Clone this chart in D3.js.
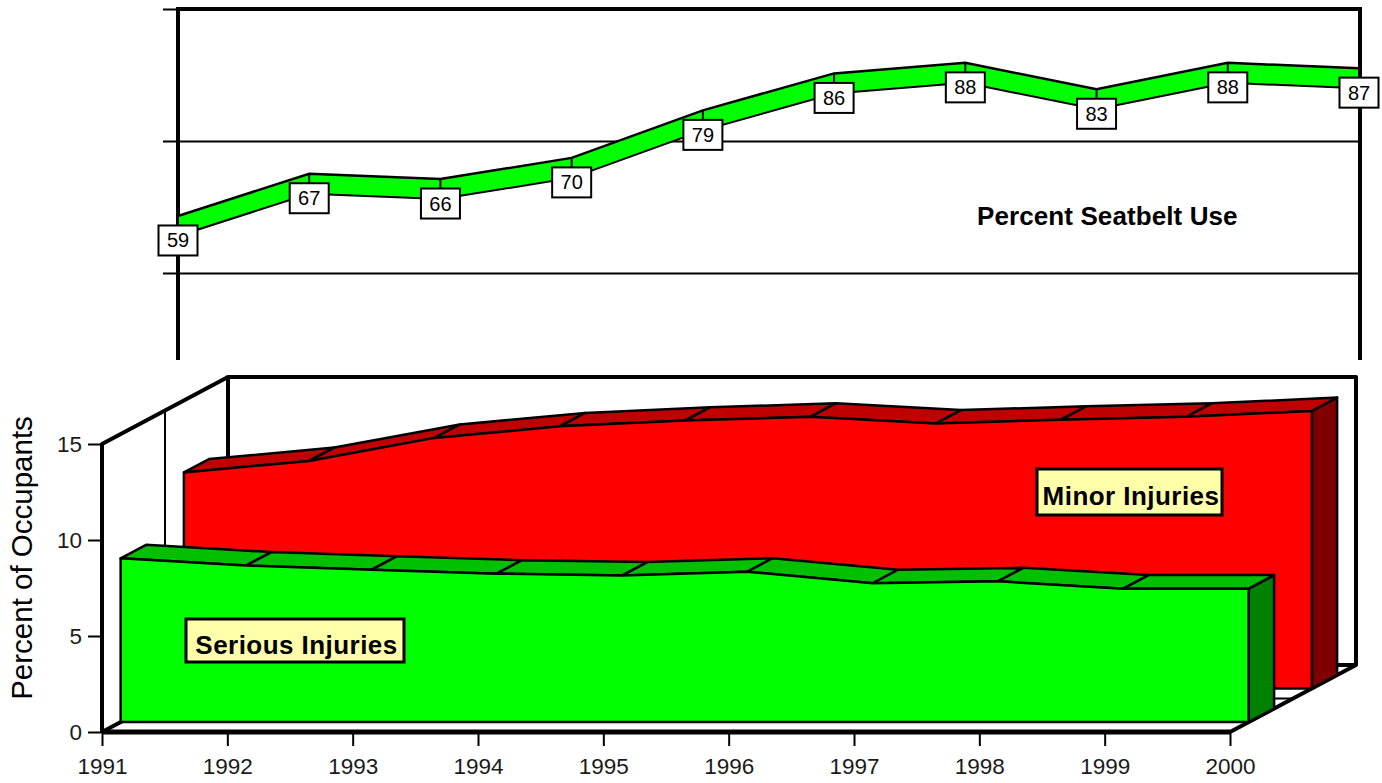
<!DOCTYPE html>
<html>
<head>
<meta charset="utf-8">
<script src="https://cdn.jsdelivr.net/npm/d3@7"></script>
<style>
    html, body { margin: 0; padding: 0; background: #fff; }
    svg { display: block; }
    text { font-family: "Liberation Sans", Arial, sans-serif; fill: #000; }
    .tick text { font-size: 22.5px; fill: #1a1a1a; }
</style>
</head>
<body>
<svg id="chart" width="1382" height="783"></svg>
<script>
// values
const years = [1991, 1992, 1993, 1994, 1995, 1996, 1997, 1998, 1999, 2000];
const seatbeltUse = [59, 67, 66, 70, 79, 86, 88, 83, 88, 87];
const seriousInjuries = [8.53, 8.15, 7.93, 7.73, 7.63, 7.83, 7.23, 7.33, 6.95, 6.95];
const minorInjuries = [11.25, 11.85, 13.05, 13.65, 13.95, 14.15, 13.8, 14.0, 14.15, 14.45];
const seatbeltTicks = [50, 75, 100];
const injuryTicks = [0, 5, 10, 15];

const svg = d3.select("#chart");

// top panel
const xTop = d3.scaleLinear().domain([1991, 2000]).range([178, 1359]);
const yTop = d3.scaleLinear().domain([50, 100]).range([273, 9]);
const top_bottom = 360;
const ribbon = 10; // half height of the band
const belt = years.map((y, i) => ({ year: y, v: seatbeltUse[i] }));

const gTop = svg.append("g");
const topAxis = d3.axisLeft(yTop).tickValues(seatbeltTicks).tickSize(15).tickFormat("");
gTop.append("g")
    .attr("transform", "translate(178,0)")
    .call(topAxis)
    .call(g => g.select(".domain").remove())
    .selectAll("line")
    .attr("x1", -15)
    .attr("x2", (d) => d === 100 ? 0 : xTop(2000) - 178 + 1)
    .attr("stroke", "#000")
    .attr("stroke-width", 2);

gTop.append("path")
    .attr("d", d3.line()([[178, top_bottom], [178, yTop(100)], [1360, yTop(100)], [1360, top_bottom]]))
    .attr("fill", "none")
    .attr("stroke", "#000")
    .attr("stroke-width", 4);

const band = d3.area()
    .x(d => xTop(d.year))
    .y0(d => yTop(d.v) + ribbon + 0.5)
    .y1(d => yTop(d.v) - ribbon + 0.5);

gTop.append("path").datum(belt).attr("d", band).attr("fill", "#00ff00");
[-ribbon, ribbon].forEach(off => {
    gTop.append("path").datum(belt)
        .attr("d", d3.line().x(d => xTop(d.year)).y(d => yTop(d.v) + off + 0.5))
        .attr("fill", "none")
        .attr("stroke", "#000")
        .attr("stroke-width", off < 0 ? 2.5 : 2);
});

// value boxes hang off each point
const boxW = 39, boxH = 30;
const labels = gTop.selectAll("g.val").data(belt).join("g")
    .attr("class", "val")
    .attr("transform", d => `translate(${xTop(d.year)},${yTop(d.v)})`);
labels.append("line")
    .attr("y1", -ribbon).attr("y2", 0)
    .attr("stroke", "#000").attr("stroke-width", 2);
labels.append("rect")
    .attr("x", -boxW / 2).attr("y", 0)
    .attr("width", boxW).attr("height", boxH)
    .attr("fill", "#fff").attr("stroke", "#000").attr("stroke-width", 2);
labels.append("text")
    .attr("text-anchor", "middle")
    .attr("y", 22)
    .attr("font-size", 20)
    .attr("fill", "#1a1a1a")
    .text(d => d.v);

svg.append("text")
    .attr("x", 977).attr("y", 225)
    .attr("font-size", 26).attr("font-weight", "bold")
    .attr("letter-spacing", 0.1)
    .text("Percent Seatbelt Use");

// bottom panel, fake 3d: depth z runs 0..1 along (dx,dy)
const xBot = d3.scaleLinear().domain([1991, 2000]).range([102, 1230]);
const yBot = d3.scaleLinear().domain([0, 15]).range([732, 444]);
const depthX = 126, depthY = -67;
const pt = (year, v, z) => [xBot(year) + depthX * z, yBot(v) + depthY * z];
const poly = d3.line();

const gBot = svg.append("g");
const frame = (pts, w) => gBot.append("path")
    .attr("d", poly(pts)).attr("fill", "none")
    .attr("stroke", "#000").attr("stroke-width", w)
    .attr("stroke-linejoin", "round");

// mid gridlines on wall and floor
frame([pt(1991, 15, 0.5), pt(1991, 0, 0.5), pt(2000, 0, 0.5)], 2);
// back wall
frame([pt(1991, 0, 1), pt(1991, 15, 1), pt(2000, 15, 1), pt(2000, 0, 1), pt(2000, 0, 0)], 4);
frame([pt(1991, 0, 0), pt(1991, 15, 0), pt(1991, 15, 1)], 4);
frame([pt(1991, 0, 0), pt(1991, 0, 1), pt(2000, 0, 1)], 4);
frame([pt(1991, 0, 0), pt(2000, 0, 0)], 5);

const series3d = (values, z0, z1, front, topCol, sideCol) => {
    const g = gBot.append("g")
        .attr("stroke", "#000").attr("stroke-width", 2.5).attr("stroke-linejoin", "round");
    const last = years.length - 1;
    // right end
    g.append("path")
        .attr("d", poly([
            pt(2000, 0, z0), pt(2000, 0, z1),
            pt(2000, values[last], z1), pt(2000, values[last], z0)
        ]) + "Z")
        .attr("fill", sideCol);
    // top facets
    g.selectAll("path.facet").data(d3.pairs(years.map((y, i) => [y, values[i]]))).join("path")
        .attr("class", "facet")
        .attr("d", ([a, b]) => poly([
            pt(a[0], a[1], z0), pt(b[0], b[1], z0),
            pt(b[0], b[1], z1), pt(a[0], a[1], z1)
        ]) + "Z")
        .attr("fill", topCol);
    // front face
    const outline = years.map((y, i) => pt(y, values[i], z0));
    g.append("path")
        .attr("d", poly([pt(1991, 0, z0), ...outline, pt(2000, 0, z0)]) + "Z")
        .attr("fill", front);
};

series3d(minorInjuries, 0.65, 0.85, "#ff0000", "#c00000", "#800000");
series3d(seriousInjuries, 0.148, 0.35, "#00ff00", "#00c000", "#008000");

// axes
gBot.append("g")
    .attr("transform", "translate(102,0)")
    .call(d3.axisLeft(yBot).tickValues(injuryTicks).tickSize(14).tickPadding(6).tickFormat(d3.format("d")))
    .call(g => g.select(".domain").remove())
    .call(g => g.selectAll("line").attr("stroke", "#000").attr("stroke-width", 2));
gBot.append("g")
    .attr("transform", "translate(0,732)")
    .call(d3.axisBottom(xBot).tickValues(years).tickSize(14).tickPadding(12).tickFormat(d3.format("d")))
    .call(g => g.select(".domain").remove())
    .call(g => g.selectAll("line").attr("stroke", "#000").attr("stroke-width", 2));

svg.append("text")
    .attr("transform", "translate(32,558) rotate(-90)")
    .attr("text-anchor", "middle")
    .attr("font-size", 29.5)
    .attr("fill", "#1a1a1a")
    .text("Percent of Occupants");

// name tags
const tag = (name, x, y, w, h) => {
    svg.append("rect")
        .attr("x", x).attr("y", y).attr("width", w).attr("height", h)
        .attr("fill", "#ffffaa").attr("stroke", "#000").attr("stroke-width", 3);
    svg.append("text")
        .attr("x", x + w / 2 + 1.5).attr("y", y + h / 2 + 13)
        .attr("text-anchor", "middle")
        .attr("font-size", 26).attr("font-weight", "bold")
        .attr("letter-spacing", 0.45)
        .text(name);
};
tag("Serious Injuries", 186, 619, 218, 43);
tag("Minor Injuries", 1037, 469, 185, 46);
</script>
</body>
</html>
